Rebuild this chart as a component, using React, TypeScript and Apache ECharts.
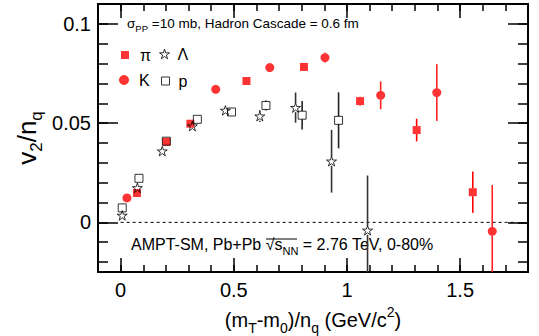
import React, { useEffect, useRef } from "react";
import * as echarts from "echarts";

const FONT = '"Liberation Sans", Arial, Helvetica, sans-serif';

// pi (red squares)
const piX = [0.072, 0.202, 0.308, 0.556, 0.81, 1.058, 1.308, 1.556];
const piY = [0.0148, 0.0406, 0.0497, 0.0712, 0.0783, 0.0611, 0.0465, 0.0152];
const piErr = [0.0005, 0.0005, 0.0008, 0.001, 0.0012, 0.0022, 0.0057, 0.0104];
// K (red circles)
const kX = [0.028, 0.42, 0.659, 0.903, 1.149, 1.397, 1.642];
const kY = [0.0123, 0.067, 0.078, 0.083, 0.064, 0.0654, -0.0045];
const kErr = [0.0005, 0.001, 0.0012, 0.0025, 0.007, 0.0143, 0.0233];
// Lambda (open stars)
const lamX = [0.007, 0.074, 0.184, 0.317, 0.463, 0.615, 0.773, 0.932, 1.091];
const lamY = [0.0035, 0.0174, 0.0359, 0.0485, 0.0564, 0.0535, 0.0578, 0.0308, -0.004];
const lamErr = [0.0005, 0.0008, 0.001, 0.0012, 0.0015, 0.003, 0.0076, 0.0158, 0.0276];
// p (open squares)
const pX = [0.007, 0.081, 0.202, 0.339, 0.49, 0.642, 0.802, 0.963];
const pY = [0.0073, 0.0222, 0.0409, 0.0519, 0.0556, 0.0589, 0.054, 0.0514];
const pErr = [0.0005, 0.0008, 0.001, 0.0012, 0.0015, 0.0025, 0.0072, 0.0141];

const X_MIN = -0.1;
const X_MAX = 1.8;
const Y_MIN = -0.025;
const Y_MAX = 0.11;
const xMajor = [0, 0.5, 1, 1.5];
const xMinor = [0, 0.1, 0.2, 0.3, 0.4, 0.5, 0.6, 0.7, 0.8, 0.9, 1, 1.1, 1.2, 1.3, 1.4, 1.5, 1.6, 1.7];
const yMajor = [0, 0.05, 0.1];
const yMinor = [-0.02, -0.01, 0, 0.01, 0.02, 0.03, 0.04, 0.05, 0.06, 0.07, 0.08, 0.09, 0.1];
const zeroLine = [[0, 0], [1.75, 0]];

const STAR = "path://M50,2 L61,36 L97,36 L68,57 L79,92 L50,70 L21,92 L32,57 L3,36 L39,36 Z";
const SQUARE = "path://M0,0 L10,0 L10,10 L0,10 Z";
const HOLLOW = { color: "rgba(255,255,255,0)", borderColor: "#000", borderWidth: 1 };

function pts(xs: number[], ys: number[]) {
  return xs.map((x, i) => [x, ys[i]]);
}
function errs(xs: number[], ys: number[], es: number[]) {
  return xs.map((x, i) => [x, ys[i], ys[i] - es[i], ys[i] + es[i]]);
}
function errSeries(data: number[][], color: string, gap: number) {
  return {
    type: "custom",
    xAxisIndex: 0,
    yAxisIndex: 0,
    data,
    z: 1,
    encode: { x: 0, y: [2, 3] },
    renderItem: (params: any, api: any) => {
      const x = api.value(0);
      const yc = api.value(1);
      const lo = Math.max(api.value(2), Y_MIN);
      const hi = Math.min(api.value(3), Y_MAX);
      const a = api.coord([x, hi]);
      const b = api.coord([x, lo]);
      const c = api.coord([x, yc]);
      const children: any[] = [];
      const style = { stroke: color, lineWidth: 1.6 };
      if (c[1] - a[1] > gap) {
        children.push({ type: "line", shape: { x1: a[0], y1: a[1], x2: c[0], y2: c[1] - gap }, style });
      }
      if (b[1] - c[1] > gap) {
        children.push({ type: "line", shape: { x1: c[0], y1: c[1] + gap, x2: b[0], y2: b[1] }, style });
      }
      return { type: "group", children };
    },
  };
}

function xAx(position: string, ticks: number[], len: number, labels: boolean, extra: any = {}) {
  return {
    type: "value",
    min: X_MIN,
    max: X_MAX,
    position,
    axisLine: { show: true, onZero: false, lineStyle: { color: "#000", width: 2 } },
    axisTick: { show: true, inside: true, length: len, customValues: ticks, lineStyle: { color: "#000", width: 1.5 } },
    axisLabel: labels
      ? { show: true, customValues: ticks, fontSize: 20, color: "#000", fontFamily: FONT, margin: 8 }
      : { show: false },
    splitLine: { show: false },
    ...extra,
  };
}
function yAx(position: string, ticks: number[], len: number, labels: boolean, extra: any = {}) {
  return {
    type: "value",
    min: Y_MIN,
    max: Y_MAX,
    position,
    axisLine: { show: true, onZero: false, lineStyle: { color: "#000", width: 2 } },
    axisTick: { show: true, inside: true, length: len, customValues: ticks, lineStyle: { color: "#000", width: 1.5 } },
    axisLabel: labels
      ? { show: true, customValues: ticks, fontSize: 20, color: "#000", fontFamily: FONT, margin: 7 }
      : { show: false },
    splitLine: { show: false },
    ...extra,
  };
}

function legendItem(item: any, left: number, top: number, size: number, pad: number) {
  return {
    data: [item],
    left,
    top,
    padding: [5, 0, 0, 0],
    itemWidth: size,
    itemHeight: size,
    symbolKeepAspect: true,
    selectedMode: false,
    textStyle: { fontSize: 16, fontFamily: FONT, color: "#000", padding: [0, 0, 0, pad] },
  };
}

export default function App() {
  const ref = useRef<HTMLDivElement>(null);
  useEffect(() => {
    if (!ref.current) return;
    const chart = echarts.init(ref.current, null, { renderer: "svg" });
    chart.setOption({
      animation: false,
      backgroundColor: "#fff",
      grid: {
        left: 98,
        right: 11,
        top: 4,
        bottom: 64,
        show: true,
        borderColor: "#000",
        borderWidth: 2,
        containLabel: false,
        outerBoundsMode: "none",
      },
      xAxis: [
        xAx("bottom", xMinor, 7, false),
        xAx("bottom", xMajor, 14, true, {
          name: "(m{s|T}-m{s|0})/n{s|q} (GeV/c{u|2})",
          nameLocation: "middle",
          nameGap: 18,
          nameTextStyle: {
            fontSize: 20,
            fontFamily: FONT,
            color: "#000",
            lineHeight: 24,
            rich: {
              s: { fontSize: 14, fontFamily: FONT, color: "#000", verticalAlign: "bottom", lineHeight: 30 },
              u: { fontSize: 14, fontFamily: FONT, color: "#000", verticalAlign: "top", lineHeight: 26 },
            },
          },
        }),
        xAx("top", xMinor, 7, false),
        xAx("top", xMajor, 14, false),
      ],
      yAxis: [
        yAx("left", yMinor, 10, false),
        yAx("left", yMajor, 20, true),
        yAx("right", yMinor, 10, false),
        yAx("right", yMajor, 20, false),
      ],
      legend: [
        legendItem({ name: "π" }, 121, 42, 8, 6),
        legendItem({ name: "Λ", itemStyle: HOLLOW }, 159, 41, 10, 3),
        legendItem({ name: "K" }, 119, 67, 10, 5),
        legendItem({ name: "p", itemStyle: HOLLOW }, 161, 68, 8, 4),
      ],
      graphic: [
        {
          type: "text",
          x: 27,
          y: 138,
          rotation: Math.PI / 2,
          style: {
            text: "{v|v}{s|2}{v|/n}{s|q}",
            align: "center",
            verticalAlign: "middle",
            textAlign: "center",
            textVerticalAlign: "middle",
            rich: {
              v: { fontSize: 26, fontFamily: FONT, fill: "#000", lineHeight: 30 },
              s: { fontSize: 17, fontFamily: FONT, fill: "#000", verticalAlign: "bottom", lineHeight: 36 },
            },
          },
        },
        {
          type: "text",
          left: 127,
          top: 16,
          style: {
            text: "σ{s|PP} =10 mb, Hadron Cascade = 0.6 fm",
            fontSize: 13.5,
            fontFamily: FONT,
            fill: "#000",
            rich: {
              s: { fontSize: 9.5, fontFamily: FONT, fill: "#000", color: "#000", verticalAlign: "bottom", lineHeight: 21 },
            },
          },
        },
        {
          type: "text",
          left: 131,
          top: 236,
          style: {
            text: "AMPT-SM, Pb+Pb √{s|s}{n|NN} = 2.76 TeV, 0-80%",
            fontSize: 16,
            fontFamily: FONT,
            fill: "#000",
            rich: {
              s: { fontSize: 16, fontFamily: FONT, fill: "#000", color: "#000" },
              n: { fontSize: 11, fontFamily: FONT, fill: "#000", color: "#000", verticalAlign: "bottom", lineHeight: 24 },
            },
          },
        },
        {
          type: "line",
          shape: { x1: 266, y1: 239, x2: 297, y2: 239 },
          style: { stroke: "#000", lineWidth: 1 },
        },
      ],
      series: [
        {
          type: "line",
          data: zeroLine,
          symbol: "none",
          lineStyle: { color: "#000", width: 1, type: [3, 3] },
          z: 0,
          silent: true,
        },
        errSeries(errs(piX, piY, piErr), "#f00", 4),
        errSeries(errs(kX, kY, kErr), "#f22", 4.5),
        errSeries(errs(lamX, lamY, lamErr), "#333", 4.5),
        errSeries(errs(pX, pY, pErr), "#222", 4),
        {
          name: "π",
          type: "scatter",
          data: pts(piX, piY),
          symbol: SQUARE,
          symbolSize: 8,
          symbolKeepAspect: true,
          itemStyle: { color: "#f00" },
          z: 3,
        },
        {
          name: "K",
          type: "scatter",
          data: pts(kX, kY),
          symbol: "circle",
          symbolSize: 9,
          itemStyle: { color: "#f00" },
          z: 3,
        },
        {
          name: "Λ",
          type: "scatter",
          data: pts(lamX, lamY),
          symbol: STAR,
          symbolSize: 10,
          symbolKeepAspect: true,
          itemStyle: HOLLOW,
          z: 4,
        },
        {
          name: "p",
          type: "scatter",
          data: pts(pX, pY),
          symbol: SQUARE,
          symbolSize: 8,
          symbolKeepAspect: true,
          itemStyle: HOLLOW,
          z: 4,
        },
      ],
    });
    return () => chart.dispose();
  }, []);
  return (
    <div
      ref={ref}
      style={{ position: "fixed", left: 0, top: 0, width: 539, height: 336, background: "#fff" }}
    />
  );
}
